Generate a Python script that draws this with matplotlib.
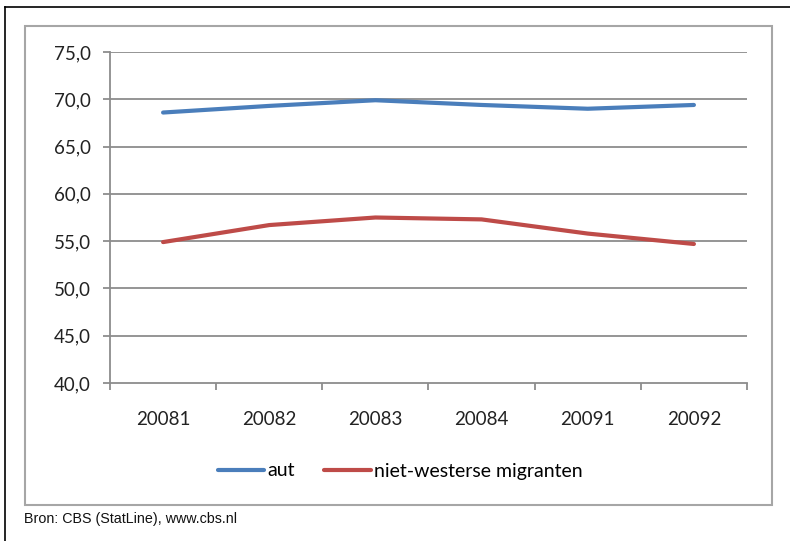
import matplotlib.pyplot as plt
from matplotlib.patches import Rectangle
from matplotlib.lines import Line2D

periods = ["20081", "20082", "20083", "20084", "20091", "20092"]
aut = [68.6, 69.3, 69.9, 69.4, 69.0, 69.4]
niet_westers = [54.9, 56.7, 57.5, 57.3, 55.8, 54.7]
y_ticks = [40, 45, 50, 55, 60, 65, 70, 75]

W, H = 790, 541
plt.rcParams['font.family'] = ['Lato', 'DejaVu Sans']

fig = plt.figure(figsize=(W / 100, H / 100), dpi=100)

def px_box(x0, y0, x1, y1):
    return [x0 / W, 1 - y1 / H, (x1 - x0) / W, (y1 - y0) / H]

# outer frame (left and top only) and chart area border
fig.add_artist(Line2D([5 / W, 5 / W], [0, 1 - 7 / H], color="black", lw=1.2))
fig.add_artist(Line2D([5 / W, 1], [1 - 7 / H, 1 - 7 / H], color="black", lw=1.2))
fig.add_artist(Rectangle((25 / W, 1 - 505 / H), (772 - 25) / W, (505 - 26) / H,
                         fill=False, edgecolor="#a6a6a6", lw=1.5))

ax = fig.add_axes(px_box(110, 52, 747, 383))
x = range(len(periods))
ax.plot(x, aut, color="#4a7ebb", lw=3, solid_capstyle="round", label="aut")
ax.plot(x, niet_westers, color="#be4b48", lw=3, solid_capstyle="round",
        label="niet-westerse migranten")

ax.set_xlim(-0.5, len(periods) - 0.5)
ax.set_ylim(40, 75)
ax.set_yticks(y_ticks)
ax.set_yticklabels([f"{v:.1f}".replace(".", ",") for v in y_ticks], fontsize=13.5,
                   color="#222222")
for v in y_ticks[1:]:
    ax.axhline(v, color="#8c8c8c", lw=1.3, zorder=0)

ax.set_xticks([i - 0.5 for i in range(len(periods) + 1)], minor=False)
ax.set_xticklabels([])
ax.set_xticks(list(x), minor=True)
ax.set_xticklabels(periods, minor=True, fontsize=13.5, color="#222222")
ax.tick_params(axis="x", which="minor", length=0, pad=20)
ax.tick_params(axis="x", which="major", length=5, color="#8c8c8c", width=1.3)
ax.tick_params(axis="y", length=5, color="#8c8c8c", width=1.3, pad=9)

for side in ["top", "right"]:
    ax.spines[side].set_visible(False)
for side in ["left", "bottom"]:
    ax.spines[side].set_color("#8c8c8c")
    ax.spines[side].set_linewidth(1.3)

fig.legend(loc="center", bbox_to_anchor=(400 / W, 1 - 471 / H), ncol=2, frameon=False,
           fontsize=14, handlelength=2.4, handletextpad=0.15, columnspacing=1.5)

fig.text(24 / W, 1 - 519 / H, "Bron: CBS (StatLine), www.cbs.nl", fontsize=10.3,
         family=["Liberation Sans Narrow", "Liberation Sans"], va="center", color="#111111")

fig.savefig("out.png", dpi=100)
